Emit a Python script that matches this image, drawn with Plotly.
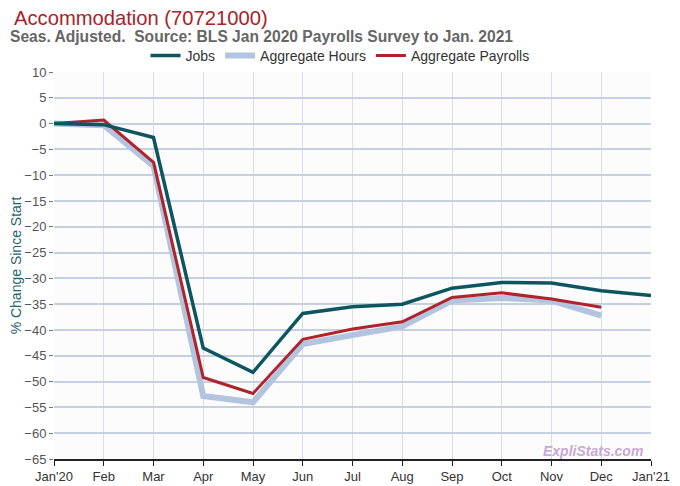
import plotly.graph_objects as go

# months on the x axis
months = ["Jan'20", "Feb", "Mar", "Apr", "May", "Jun", "Jul", "Aug",
          "Sep", "Oct", "Nov", "Dec", "Jan'21"]

# % change since start
jobs = [0, -0.2, -2.7, -43.5, -48.2, -36.8, -35.5, -35.0, -31.9, -30.8, -30.9, -32.4, -33.3]
agg_hours = [0, -0.3, -8.2, -52.8, -54.0, -42.7, -41.0, -39.3, -34.3, -33.8, -34.3, -37.2]
agg_payrolls = [0, 0.7, -7.5, -49.2, -52.3, -41.8, -39.8, -38.4, -33.7, -32.8, -34.0, -35.6]

# plot area as it should appear on screen (page body adds an 8px offset)
PLOT_L, PLOT_T, PLOT_W, PLOT_H = 54, 72, 597, 387
OFF = 8


def px_x(sx):
    return (sx - PLOT_L) / PLOT_W


def px_y(sy):
    return (PLOT_T + PLOT_H - sy) / PLOT_H


fig = go.Figure()

# hours first so it sits under the others
fig.add_trace(go.Scatter(
    x=months[:len(agg_hours)], y=agg_hours, name="Aggregate Hours",
    mode="lines", line=dict(color="#b3c4de", width=6), legendrank=2
))
fig.add_trace(go.Scatter(
    x=months[:len(agg_payrolls)], y=agg_payrolls, name="Aggregate Payrolls",
    mode="lines", line=dict(color="#b0232a", width=3), legendrank=3
))
fig.add_trace(go.Scatter(
    x=months, y=jobs, name="Jobs",
    mode="lines", line=dict(color="#0d5660", width=3.5), legendrank=1
))

fig.update_layout(
    width=680, height=486,
    margin=dict(l=PLOT_L - OFF, r=680 - PLOT_L + OFF - PLOT_W,
                t=PLOT_T - OFF, b=486 - PLOT_T + OFF - PLOT_H, autoexpand=False),
    paper_bgcolor="white",
    plot_bgcolor="#fcfcfd",
    font=dict(family="Liberation Sans, Arial", size=12, color="#444"),
    showlegend=True,
    legend=dict(
        orientation="h", x=px_x(340), xanchor="center", y=px_y(56), yanchor="middle",
        font=dict(size=14, color="#333"), itemwidth=30, bgcolor="rgba(0,0,0,0)"
    ),
    annotations=[
        dict(text="Accommodation (70721000)", x=px_x(13), y=px_y(18),
             xref="paper", yref="paper", xanchor="left", yanchor="middle", showarrow=False,
             borderpad=0, font=dict(size=20.2, color="#a8232a")),
        dict(text="<b>Seas. Adjusted.  Source: BLS Jan 2020 Payrolls Survey to Jan. 2021</b>",
             x=px_x(8), y=px_y(36), xref="paper", yref="paper",
             xanchor="left", yanchor="middle", showarrow=False,
             font=dict(size=15.6, color="#666")),
        dict(text="<b><i>ExpliStats.com</i></b>", x=0.99, y=0, xref="x domain", yref="y domain",
             xanchor="right", yanchor="bottom", yshift=-2, showarrow=False,
             font=dict(size=14, color="#c9a8d4")),
    ],
)

fig.update_xaxes(
    type="category", categoryorder="array", categoryarray=months,
    range=[0, len(months) - 1],
    showgrid=True, gridcolor="#d8dde6", gridwidth=1,
    showline=True, linecolor="#222", linewidth=1.5,
    ticks="outside", tickcolor="#222", ticklen=5,
    tickfont=dict(size=13, color="#333"), zeroline=False,
)
fig.update_yaxes(
    range=[-65, 10], dtick=5,
    showgrid=True, gridcolor="#c6d0e0", gridwidth=1.6,
    ticks="outside", tickcolor="#777", ticklen=4,
    tickfont=dict(size=13, color="#555"), zeroline=False,
    title=dict(text="% Change Since Start", font=dict(size=14, color="#1d6470"), standoff=4),
)

fig.write_html("out.html")
